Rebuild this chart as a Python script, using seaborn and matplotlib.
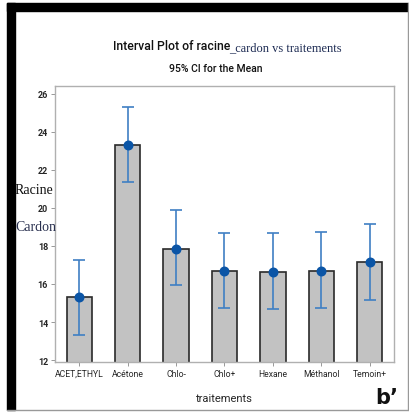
import matplotlib
matplotlib.use("Agg")
import matplotlib.pyplot as plt
import numpy as np
import pandas as pd
import seaborn as sns
from matplotlib.patches import Rectangle

# data
traitements = ["ACET,ETHYL", "Acétone", "Chlo-", "Chlo+", "Hexane", "Méthanol", "Temoin+"]
means = [15.3, 23.3, 17.86, 16.69, 16.64, 16.69, 17.17]
ci_low = [13.34, 21.37, 15.92, 14.72, 14.66, 14.75, 15.18]
ci_high = [17.26, 25.31, 19.87, 18.67, 18.67, 18.72, 19.13]
yticks = [12, 14, 16, 18, 20, 22, 24, 26]

df = pd.DataFrame({"traitements": traitements, "mean": means, "lo": ci_low, "hi": ci_high})

sns.set_theme(style="white")
narrow = ["Roboto", "DejaVu Sans"]
serif = ["Liberation Serif", "DejaVu Serif"]

fig = plt.figure(figsize=(4.1, 4.14), dpi=100)
W, H = 410, 414
ax = fig.add_axes([55 / W, 1 - 363 / H, (394 - 55) / W, (363 - 87) / H])

sns.barplot(data=df, x="traitements", y="mean", color="#c2c2c2", edgecolor="#2a2a2a",
            linewidth=1.2, width=0.52, errorbar=None, saturation=1, ax=ax)

x = np.arange(len(df))
ax.errorbar(x, df["mean"], yerr=[df["mean"] - df["lo"], df["hi"] - df["mean"]],
            fmt="none", ecolor="#3f7fc4", elinewidth=1.2, capsize=4.5, capthick=1.2, zorder=3)
ax.scatter(x, df["mean"], s=38, color="#0b55a6", zorder=4)

ax.set_ylim(11.9, 26.4)
ax.set_xlim(-0.5, 6.5)
ax.set_yticks(yticks)
ax.set_yticklabels([str(t) for t in yticks], family=narrow, fontsize=6.5, fontweight="bold")
ax.set_xticks(x)
ax.set_xticklabels(traitements, family=narrow, fontsize=6.2)
ax.tick_params(axis="both", length=3, width=0.6, color="#888888", direction="out",
               bottom=True, left=True, pad=2)
for s in ax.spines.values():
    s.set_color("#b0b0b0")
    s.set_linewidth(1.0)
ax.set_xlabel("traitements", family=narrow, fontsize=8, labelpad=11)
ax.set_ylabel("")

# titles
fig.text(230 / W, 1 - 47 / H, "Interval Plot of racine", ha="right", va="center",
         family=narrow, fontsize=8.8, fontweight="medium", color="#111111")
fig.text(229 / W, 1 - 48 / H, "_cardon vs traitements", ha="left", va="center",
         family=serif, fontsize=8.9, color="#1c2a52")
fig.text(216 / W, 1 - 69 / H, "95% CI for the Mean", ha="center", va="center",
         family=narrow, fontsize=7.5, fontweight="medium", color="#111111")

# y label split in two lines
fig.text(15 / W, 1 - 190 / H, "Racine", ha="left", va="center", family=serif,
         fontsize=10, color="#111111")
fig.text(15 / W, 1 - 228 / H, "Cardon", ha="left", va="center", family=serif,
         fontsize=10, color="#2a3150")

fig.text(398 / W, 1 - 398 / H, "b\u2019", ha="right", va="center", family=["DejaVu Sans"],
         fontsize=15, fontweight="bold", color="#111111")

# page frame
fig.patches.append(Rectangle((7 / W, 1 - 411 / H), 8 / W, (411 - 4) / H,
                             transform=fig.transFigure, color="black"))
fig.patches.append(Rectangle((7 / W, 1 - 12 / H), (408 - 7) / W, 8 / H,
                             transform=fig.transFigure, color="black"))
fig.add_artist(plt.Line2D([408 / W, 408 / W], [1 - 411 / H, 1 - 4 / H], color="#999999", lw=1))
fig.add_artist(plt.Line2D([7 / W, 408 / W], [1 - 411 / H, 1 - 411 / H], color="#999999", lw=1))

fig.savefig("out.png", dpi=100)
